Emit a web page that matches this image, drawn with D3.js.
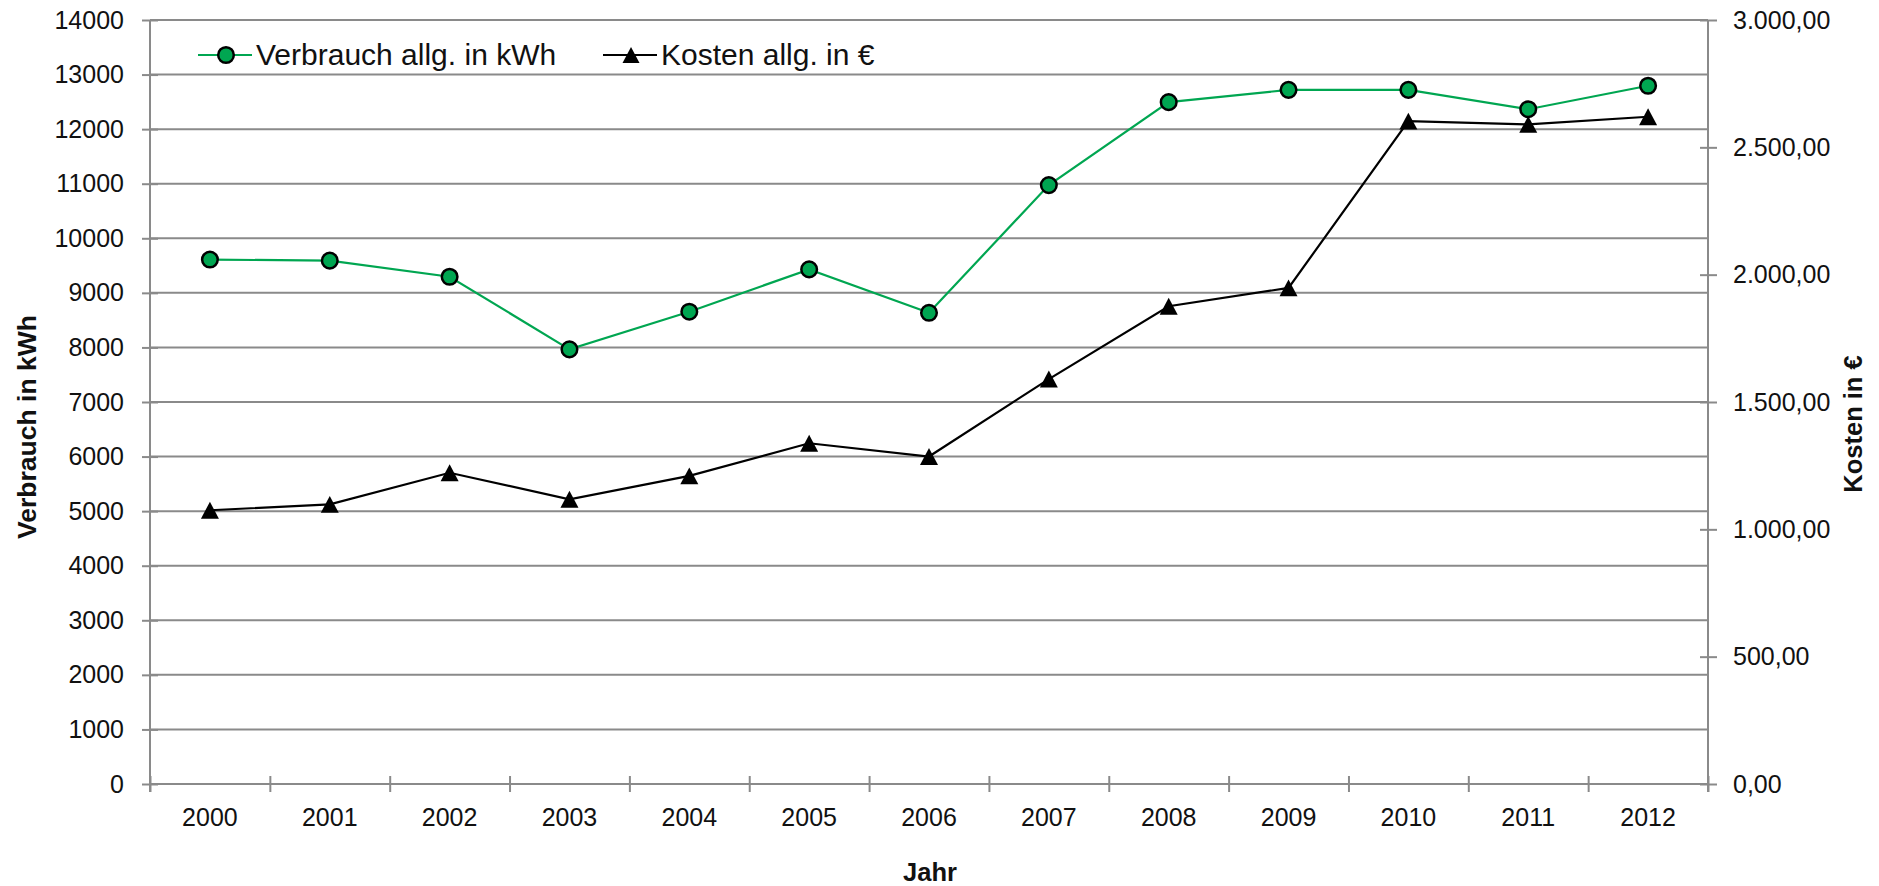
<!DOCTYPE html>
<html>
<head>
<meta charset="utf-8">
<script src="https://cdn.jsdelivr.net/npm/d3@7"></script>
<style>
  html, body { margin: 0; padding: 0; background: #fff; }
  svg { display: block; }
  text { font-family: "Liberation Sans", Arial, sans-serif; fill: #111; }
</style>
</head>
<body>
<svg id="chart" width="1879" height="886"></svg>
<script>
// ---- Data ----
const years = ["2000","2001","2002","2003","2004","2005","2006","2007","2008","2009","2010","2011","2012"];
const verbrauch = [9610, 9590, 9295, 7965, 8655, 9430, 8635, 10975, 12495, 12720, 12720, 12365, 12795];
const kosten = [1075, 1098, 1222, 1118, 1210, 1338, 1286, 1590, 1876, 1948, 2603, 2590, 2620];
const leftTicks = [0,1000,2000,3000,4000,5000,6000,7000,8000,9000,10000,11000,12000,13000,14000];
const rightTicks = [0,500,1000,1500,2000,2500,3000];
const rightTickLabels = ["0,00","500,00","1.000,00","1.500,00","2.000,00","2.500,00","3.000,00"];
const seriesNames = ["Verbrauch allg. in kWh", "Kosten allg. in €"];
const axisTitles = { left: "Verbrauch in kWh", right: "Kosten in €", bottom: "Jahr" };

// ---- Layout ----
const L = 150, R = 1708, T = 20, B = 784;
const green = "#00a651";
const gridColor = "#8a8a8a";

const svg = d3.select("#chart");

const x = d3.scaleBand().domain(years).range([L, R]).padding(0);
const xb = d3.scaleLinear().domain([0, years.length]).range([L, R]);
const y = d3.scaleLinear().domain([0, 14000]).range([B, T]);
const y2 = d3.scaleLinear().domain([0, 3000]).range([B, T]);

// gridlines
svg.append("g").selectAll("line").data(leftTicks).join("line")
  .attr("x1", L).attr("x2", R)
  .attr("y1", d => y(d)).attr("y2", d => y(d))
  .attr("stroke", gridColor).attr("stroke-width", 2);

// left axis
const gl = svg.append("g").attr("transform", `translate(${L},0)`)
  .call(d3.axisLeft(y).tickValues(leftTicks).tickFormat(d3.format("d")).tickSize(8).tickPadding(18));
gl.select(".domain").attr("stroke", gridColor).attr("stroke-width", 2).attr("d", `M0,${T}V${B+8}`);
gl.selectAll(".tick line").attr("x1", -8).attr("x2", 8).attr("stroke", gridColor).attr("stroke-width", 2);
gl.selectAll(".tick text").attr("font-size", 25).attr("font-family", "Liberation Sans, Arial, sans-serif").attr("fill", "#111");

// right axis
const gr = svg.append("g").attr("transform", `translate(${R},0)`)
  .call(d3.axisRight(y2).tickValues(rightTicks).tickFormat((d, i) => rightTickLabels[i]).tickSize(8).tickPadding(17));
gr.select(".domain").attr("stroke", gridColor).attr("stroke-width", 2).attr("d", `M0,${T}V${B+8}`);
gr.selectAll(".tick line").attr("x1", -8).attr("x2", 9).attr("stroke", gridColor).attr("stroke-width", 2);
gr.selectAll(".tick text").attr("font-size", 25).attr("font-family", "Liberation Sans, Arial, sans-serif").attr("fill", "#111");

// bottom axis: boundary ticks
const gbt = svg.append("g").attr("transform", `translate(0,${B})`)
  .call(d3.axisBottom(xb).tickValues(d3.range(0, years.length + 1)).tickFormat("").tickSize(8));
gbt.select(".domain").attr("stroke", gridColor).attr("stroke-width", 2).attr("d", `M${L},0H${R}`);
gbt.selectAll(".tick line").attr("y1", -8).attr("y2", 8).attr("stroke", gridColor).attr("stroke-width", 2);

// bottom axis labels
const gb = svg.append("g").attr("transform", `translate(0,${B})`)
  .call(d3.axisBottom(x).tickSize(0).tickPadding(24));
gb.select(".domain").remove();
gb.selectAll(".tick text").attr("font-size", 25).attr("font-family", "Liberation Sans, Arial, sans-serif").attr("fill", "#111");

// custom triangle symbol (bbox centered)
const tri = { draw(ctx, size) { const w = Math.sqrt(size); ctx.moveTo(0, -w*0.47); ctx.lineTo(w*0.5, w*0.47); ctx.lineTo(-w*0.5, w*0.47); ctx.closePath(); } };

// lines
const lineV = d3.line().x((d, i) => x(years[i]) + x.bandwidth()/2).y(d => y(d));
const lineK = d3.line().x((d, i) => x(years[i]) + x.bandwidth()/2).y(d => y2(d));

svg.append("path").datum(kosten).attr("d", lineK).attr("fill", "none").attr("stroke", "#000").attr("stroke-width", 2.2);
svg.append("path").datum(verbrauch).attr("d", lineV).attr("fill", "none").attr("stroke", green).attr("stroke-width", 2.2);

svg.append("g").selectAll("path").data(kosten).join("path")
  .attr("d", d3.symbol().type(tri).size(324))
  .attr("transform", (d, i) => `translate(${x(years[i]) + x.bandwidth()/2},${y2(d)})`)
  .attr("fill", "#000");

svg.append("g").selectAll("circle").data(verbrauch).join("circle")
  .attr("cx", (d, i) => x(years[i]) + x.bandwidth()/2)
  .attr("cy", d => y(d))
  .attr("r", 7.8)
  .attr("fill", green).attr("stroke", "#000").attr("stroke-width", 2.5);

// legend
const leg = svg.append("g");
const ly = 55;
leg.append("line").attr("x1", 198).attr("x2", 252).attr("y1", ly).attr("y2", ly).attr("stroke", green).attr("stroke-width", 2.2);
leg.append("circle").attr("cx", 226).attr("cy", ly).attr("r", 7.8).attr("fill", green).attr("stroke", "#000").attr("stroke-width", 2.5);
leg.append("text").attr("x", 256).attr("y", 65).attr("font-size", 30).text(seriesNames[0]);
leg.append("line").attr("x1", 603).attr("x2", 657).attr("y1", ly).attr("y2", ly).attr("stroke", "#000").attr("stroke-width", 2.2);
leg.append("path").attr("d", d3.symbol().type(tri).size(289)).attr("transform", `translate(631,${ly})`).attr("fill", "#000");
leg.append("text").attr("x", 661).attr("y", 65).attr("font-size", 30).text(seriesNames[1]);

// axis titles
svg.append("text").attr("transform", "translate(36,427) rotate(-90)")
  .attr("text-anchor", "middle").attr("font-size", 26.5).attr("font-weight", "bold").text(axisTitles.left);
svg.append("text").attr("transform", "translate(1862,424) rotate(-90)")
  .attr("text-anchor", "middle").attr("font-size", 25.5).attr("font-weight", "bold").text(axisTitles.right);
svg.append("text").attr("x", 930).attr("y", 881)
  .attr("text-anchor", "middle").attr("font-size", 25.5).attr("font-weight", "bold").text(axisTitles.bottom);
</script>
</body>
</html>
